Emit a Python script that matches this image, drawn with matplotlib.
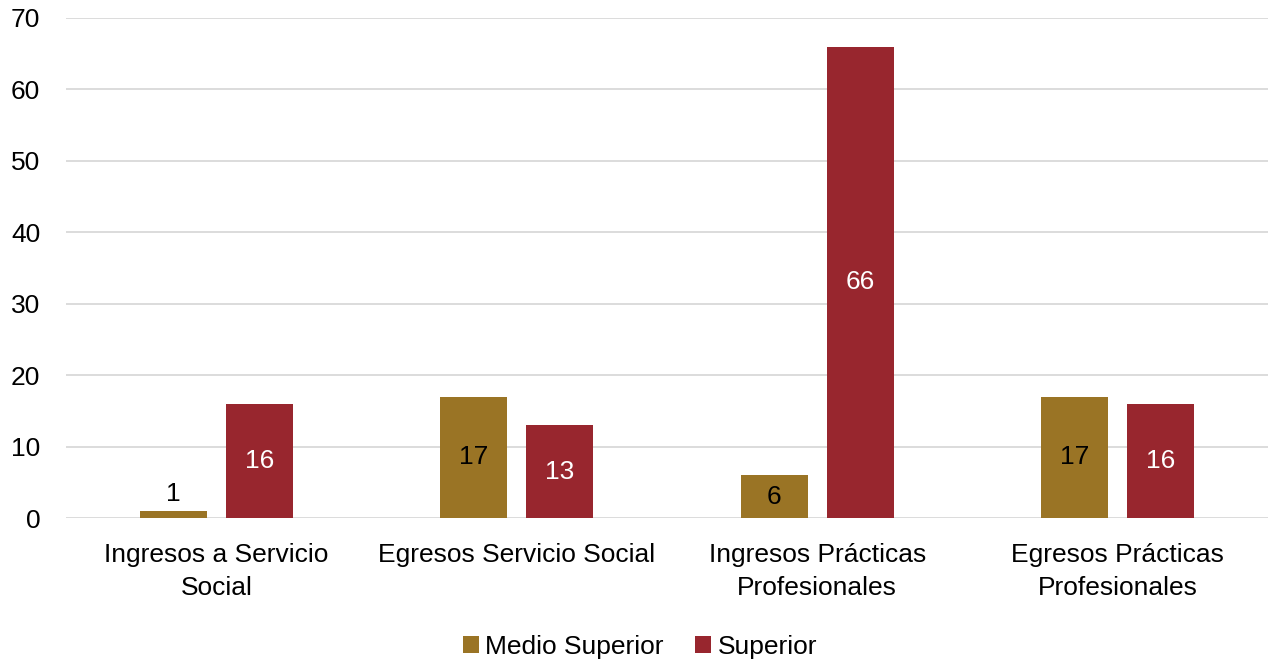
import matplotlib.pyplot as plt
import numpy as np

plt.rcParams['font.family'] = ['Liberation Sans', 'DejaVu Sans']

categories = ["Ingresos a Servicio\nSocial", "Egresos Servicio Social",
              "Ingresos Prácticas\nProfesionales", "Egresos Prácticas\nProfesionales"]
medio_superior = [1, 17, 6, 17]
superior = [16, 13, 66, 16]

gold = "#9A7425"
red = "#98262E"
fs = 19

fig = plt.figure(figsize=(12.8, 6.63), dpi=100)
ax = fig.add_axes([0.0516, 0.2187, 0.939, 0.7542])

x = np.arange(len(categories))
w = 0.223
off = 0.143
b1 = ax.bar(x - off, medio_superior, w, color=gold, label="Medio Superior", zorder=3)
b2 = ax.bar(x + off, superior, w, color=red, label="Superior", zorder=3)

for bars, vals, col in [(b1, medio_superior, "black"), (b2, superior, "white")]:
    for rect, v in zip(bars, vals):
        cx = rect.get_x() + rect.get_width() / 2
        if v < 3:
            ax.text(cx, v + 0.7, str(v), ha="center", va="bottom", fontsize=fs, color="black")
        else:
            ax.text(cx, v / 2, str(v), ha="center", va="center", fontsize=fs, color=col)

ax.set_xlim(-0.5, 3.5)
ax.set_ylim(0, 70)
ax.set_yticks(range(0, 71, 10))
ax.set_xticks(x)
ax.set_xticklabels(categories, fontsize=fs, linespacing=1.45)
ax.tick_params(axis="y", labelsize=fs, length=0, pad=18.5)
ax.tick_params(axis="x", length=0, pad=18)
ax.grid(axis="y", color="#D9D9D9", linewidth=1.3, zorder=0)
for s in ax.spines.values():
    s.set_visible(False)

fig.legend(loc="center", bbox_to_anchor=(0.5, 16 / 663), ncol=2, frameon=False,
           fontsize=fs, handlelength=0.6, handleheight=0.6, handletextpad=0.25, columnspacing=1.2)

fig.savefig("out.png", dpi=100)
